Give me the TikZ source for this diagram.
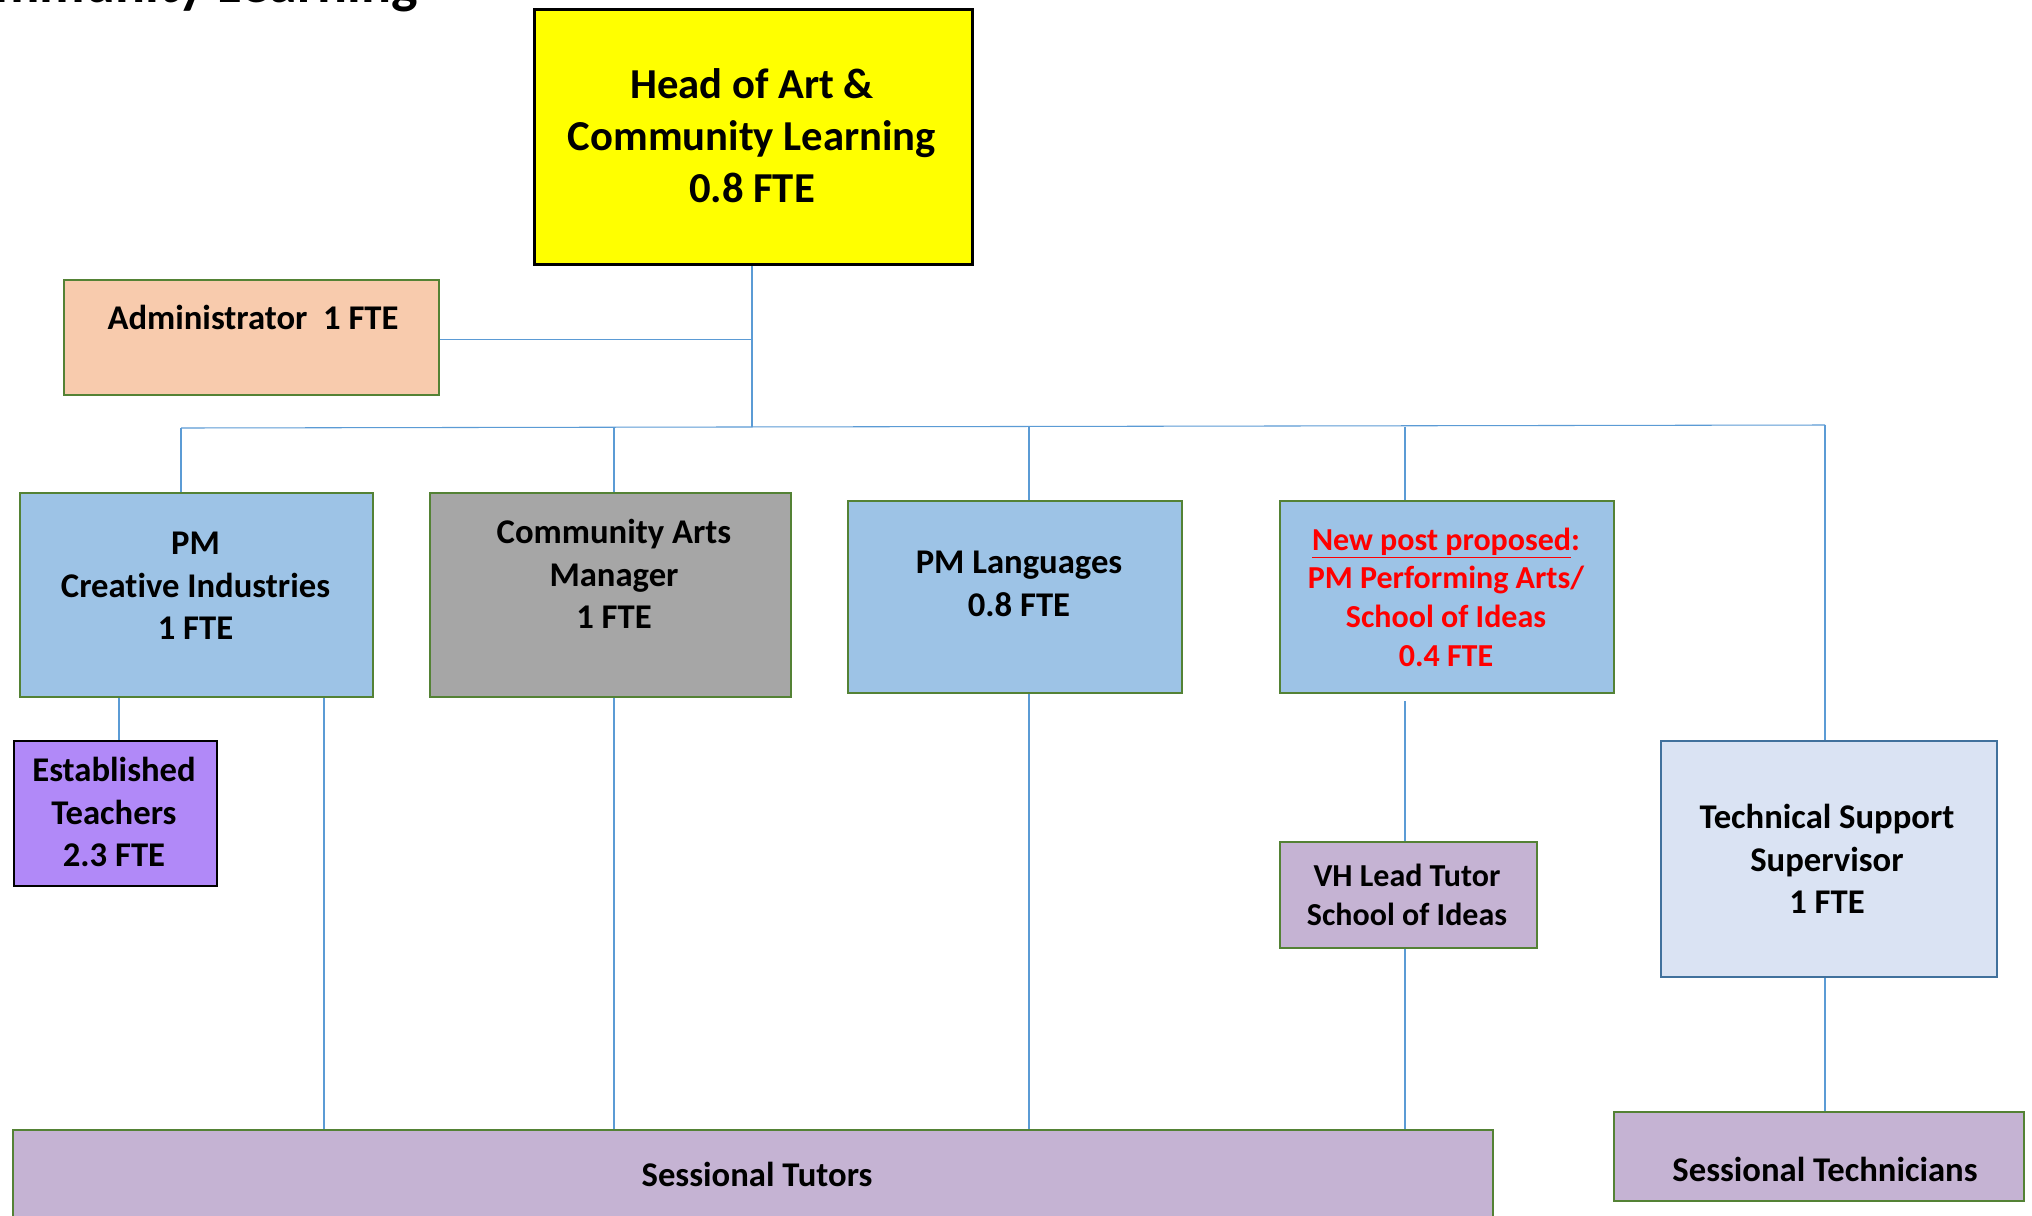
\documentclass[tikz,border=0pt]{standalone}
\usepackage{fontspec}
\setmainfont{Carlito}[RawFeature=-liga]
\definecolor{headY}{HTML}{FFFF00}
\definecolor{adminC}{HTML}{F8CBAD}
\definecolor{pmBlue}{HTML}{9DC3E6}
\definecolor{camGray}{HTML}{A6A6A6}
\definecolor{estPurple}{HTML}{B189F8}
\definecolor{lav}{HTML}{C5B3D3}
\definecolor{techFill}{HTML}{DAE3F3}
\definecolor{techLine}{HTML}{41719C}
\definecolor{grn}{HTML}{548235}
\definecolor{conn}{HTML}{5B9BD5}
\begin{document}
\begin{tikzpicture}[x=0.75pt,y=-0.75pt,
  box/.style={draw=grn,line width=1.6pt,inner sep=0pt,anchor=north west},
  sz/.style 2 args={minimum width=#1*0.75pt,minimum height=#2*0.75pt},
  txt/.style={font=\bfseries\fontsize{26}{31.7}\selectfont,align=center,inner sep=0pt},
  small/.style={font=\bfseries\fontsize{24}{29}\selectfont},
  link/.style={draw=conn,line width=0.8pt}]
\useasboundingbox (0,0) rectangle (2032,1215);
\fill[white] (0,0) rectangle (2032,1215);
% title fragment
\node[font=\bfseries\fontsize{42}{50}\selectfont,anchor=base east,inner sep=0pt] (title) at (418,2) {Arts \& Community Learning};
% boxes
\node[box,draw=black,line width=2.2pt,fill=headY,sz={438}{255}] (head) at (533,8) {};
\node[txt,font=\bfseries\fontsize{32}{39}\selectfont] (headT) at (752,136) {Head of Art \&\\Community Learning\\0.8 FTE};
\node[box,fill=adminC,sz={375}{115}] (admin) at (63,279) {};
\node[txt] (adminT) at (253,317) {Administrator\ \ 1 FTE};
\node[box,fill=pmBlue,sz={353}{204}] (ci) at (19,492) {};
\node[txt] (ciT) at (195.5,586) {PM\\Creative Industries\\1 FTE};
\node[box,fill=camGray,sz={361}{204}] (cam) at (429,492) {};
\node[txt] (camT) at (614,574) {Community Arts\\Manager\\1 FTE};
\node[box,fill=pmBlue,sz={334}{192}] (lang) at (847,500) {};
\node[txt] (langT) at (1019,584) {PM Languages\\0.8 FTE};
\node[box,fill=pmBlue,sz={334}{192}] (np) at (1279,500) {};
\node[txt,small,text=red] (npT) at (1446,597) {\underline{New post proposed}:\\PM Performing Arts/\\School of Ideas\\0.4 FTE};
\node[box,draw=techLine,fill=techFill,sz={336}{236}] (tech) at (1660,740) {};
\node[txt] (techT) at (1827,859) {Technical Support\\Supervisor\\1 FTE};
\node[box,draw=black,fill=estPurple,sz={203}{145}] (est) at (13,740) {};
\node[txt] (estT) at (114,812) {Established\\Teachers\\2.3 FTE};
\node[box,fill=lav,sz={257}{106}] (vh) at (1279,841) {};
\node[txt,small] (vhT) at (1407,895) {VH Lead Tutor\\School of Ideas};
\node[box,fill=lav,sz={1480}{140}] (st) at (12,1129) {};
\node[txt] (stT) at (757,1174) {Sessional Tutors};
\node[box,fill=lav,sz={410}{89}] (stech) at (1613,1111) {};
\node[txt] (stechT) at (1825,1169) {Sessional Technicians};
% connector coordinates
\coordinate (hub) at (752,427);
\coordinate (barL) at (181,428);
\coordinate (barR) at (1825,425);
\coordinate (npGap) at (1405,701);
% connectors
\draw[link] (head.south -| hub) -- (hub);
\draw[link] (admin.east |- 0,339.5) -- (752,339.5);
\draw[link] (barL) -- (barR);
\draw[link] (barL) -- (ci.north -| barL);
\draw[link] (614,428) -- (cam.north -| 614,0);
\draw[link] (1029,427) -- (lang.north -| 1029,0);
\draw[link] (1405,427) -- (np.north -| 1405,0);
\draw[link] (barR) -- (tech.north -| barR);
\draw[link] (ci.south -| 119,0) -- (est.north -| 119,0);
\draw[link] (ci.south -| 324,0) -- (st.north -| 324,0);
\draw[link] (cam.south -| 614,0) -- (st.north -| 614,0);
\draw[link] (lang.south -| 1029,0) -- (st.north -| 1029,0);
\draw[link] (npGap) -- (vh.north -| npGap);
\draw[link] (vh.south -| npGap) -- (st.north -| npGap);
\draw[link] (tech.south -| barR) -- (stech.north -| barR);
\end{tikzpicture}
\end{document}
